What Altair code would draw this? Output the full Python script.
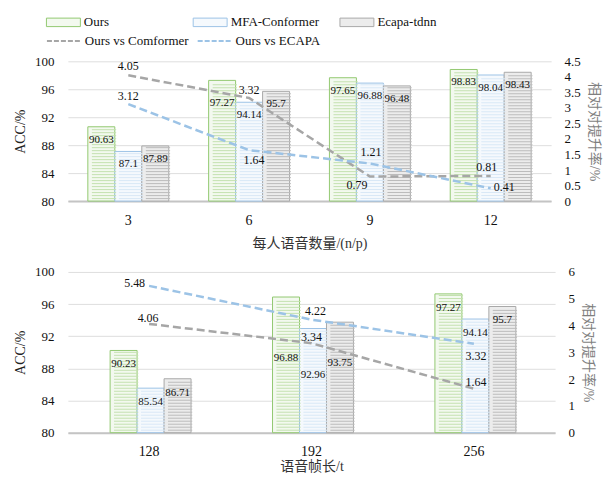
import altair as alt
import pandas as pd

# ---------------- data ----------------
models = ["Ours", "MFA-Conformer", "Ecapa-tdnn"]
comparisons = ["Ours vs Comformer", "Ours vs ECAPA"]

top_cats = ["3", "6", "9", "12"]
top_ours = [90.63, 97.27, 97.65, 98.83]
top_mfa = [87.1, 94.14, 96.88, 98.04]
top_ecapa = [87.89, 95.7, 96.48, 98.43]
top_vs_conf = [4.05, 3.32, 0.79, 0.81]
top_vs_ecapa = [3.12, 1.64, 1.21, 0.41]

bot_cats = ["128", "192", "256"]
bot_ours = [90.23, 96.88, 97.27]
bot_mfa = [85.54, 92.96, 94.14]
bot_ecapa = [86.71, 93.75, 95.7]
bot_vs_conf = [4.06, 3.34, 1.64]
bot_vs_ecapa = [5.48, 4.22, 3.32]

top_x_title = "每人语音数量/(n/p)"
bot_x_title = "语音帧长/t"
y_title = "ACC/%"
y2_title = "相对对提升率/%"

# ---------------- styles ----------------
FONT = "Liberation Serif"
CJK = "Liberation Serif, Noto Sans CJK SC"
FILL = ["#f3f9ef", "#f5f9fd", "#ececec"]
OUTLINE = ["#93c971", "#9dc3e6", "#a9a9a9"]
STRIPE = {"Ours": "#c4e1b0", "MFA-Conformer": "#d9e8f6", "Ecapa-tdnn": "#bcbcbc"}
LINE = ["#a6a6a6", "#9cc3e6"]


def panel(cats, ours, mfa, ecapa, vs_conf, vs_ecapa, width, height, pad_inner,
          y2_max, y2_values, x_title, bar_dy_default, bar_dy_over, line_pos,
          title_pad_x, legend):
    vals = {"Ours": ours, "MFA-Conformer": mfa, "Ecapa-tdnn": ecapa}
    bars = pd.DataFrame([
        {"cat": c, "model": m, "acc": v, "label": f"{v:g}", "key": f"{c}|{m}"}
        for m in models for c, v in zip(cats, vals[m])
    ])
    rates = {"Ours vs Comformer": vs_conf, "Ours vs ECAPA": vs_ecapa}
    lines = pd.DataFrame([
        {"cat": c, "comparison": s, "rate": v, "label": f"{v:g}", "key": f"{s}|{c}"}
        for s in comparisons for c, v in zip(cats, rates[s])
    ])

    # hatch stripes (decoration derived from the bar values)
    u = 20.0 / height
    srows = []
    for m in models:
        for c, v in zip(cats, vals[m]):
            k = 0
            while True:
                y0 = 80 + (3 * k + 2) * u
                y1 = y0 + 1.0 * u
                if y1 > v - 1.0 * u:
                    break
                srows.append({"cat": c, "model": m, "y0": y0, "y1": y1})
                k += 1
    stripes = pd.DataFrame(srows)

    xscale = alt.Scale(domain=cats, paddingInner=pad_inner, paddingOuter=pad_inner / 2)
    xaxis = alt.Axis(title=x_title, labelAngle=0, ticks=False, labelFontSize=14,
                     labelPadding=12, titleFont=CJK, titleFontSize=14,
                     titleFontWeight="normal", titlePadding=title_pad_x,
                     domainColor="#c4c4c4", domainWidth=2, labelColor="#111",
                     titleColor="#333")
    X = alt.X("cat:N", scale=xscale, axis=xaxis)
    XO = alt.XOffset("model:N", scale=alt.Scale(domain=models))
    yscale = alt.Scale(domain=[80, 100], nice=False, zero=False)
    yaxis = alt.Axis(title=y_title, values=[80, 84, 88, 92, 96, 100], ticks=False,
                     domain=False, gridColor="#dedede", labelFontSize=13,
                     labelPadding=14, titleFontSize=14, titleFontWeight="normal",
                     titlePadding=7, labelColor="#111", titleColor="#222")

    if legend:
        leg = alt.Legend(orient="none", legendX=-22, legendY=-48, direction="horizontal",
                         columns=3, title=None, symbolType="M-1,-0.5H3V0.5H-1Z",
                         symbolSize=289, symbolStrokeWidth=1, labelFont=FONT,
                         labelFontSize=13, labelOffset=20, columnPadding=18,
                         gridAlign="all", labelColor="#111")
        leg2 = alt.Legend(orient="none", legendX=-22, legendY=-30, direction="horizontal",
                          columns=2, title=None, symbolType="M-1,0H3", symbolSize=289,
                          symbolStrokeWidth=2, symbolDash=[5, 2], labelFont=FONT,
                          labelFontSize=13, labelOffset=20, columnPadding=5,
                          gridAlign="all", labelColor="#111")
    else:
        leg = None
        leg2 = None

    base_bar = alt.Chart(bars).mark_bar(strokeWidth=1).encode(
        x=X, xOffset=XO,
        y=alt.Y("acc:Q", scale=yscale, axis=yaxis),
        y2=alt.datum(80),
        fill=alt.Fill("model:N", scale=alt.Scale(domain=models, range=FILL), legend=leg),
        stroke=alt.Stroke("model:N", scale=alt.Scale(domain=models, range=OUTLINE), legend=leg),
    )
    left_layers = [base_bar]
    for m in models:
        sdf = stripes[stripes["model"] == m]
        left_layers.append(
            alt.Chart(sdf).mark_bar(fill=STRIPE[m], strokeWidth=0,
                                    width=alt.RelativeBandSize(0.9)).encode(
                x=X, xOffset=XO, y=alt.Y("y0:Q", scale=yscale, axis=yaxis), y2="y1:Q")
        )
    # bar value labels
    groups = {}
    for c in cats:
        for m in models:
            d = bar_dy_over.get((c, m), bar_dy_default)
            groups.setdefault(d, []).append(f"{c}|{m}")
    for d, keys in groups.items():
        left_layers.append(
            alt.Chart(bars).transform_filter(alt.FieldOneOfPredicate(field="key", oneOf=keys))
            .mark_text(font=FONT, fontSize=11, dy=d, baseline="middle", color="#111")
            .encode(x=X, xOffset=XO, y=alt.Y("acc:Q", scale=yscale, axis=yaxis), text="label:N")
        )
    left = alt.layer(*left_layers)

    y2scale = alt.Scale(domain=[0, y2_max], nice=False, zero=True)
    y2axis = alt.Axis(title=y2_title, orient="right", values=y2_values, format="~g",
                      ticks=False, domain=False, grid=False, labelFontSize=13,
                      labelPadding=13, titleFont=CJK, titleFontSize=14,
                      titleFontWeight="normal", titleColor="#7f7f7f", titlePadding=6,
                      titleAngle=90, labelColor="#111")
    right_layers = [
        alt.Chart(lines).mark_line(strokeDash=[8, 4], strokeWidth=2.5).encode(
            x=X,
            y=alt.Y("rate:Q", scale=y2scale, axis=y2axis),
            color=alt.Color("comparison:N", scale=alt.Scale(domain=comparisons, range=LINE),
                            legend=leg2),
        )
    ]
    for key, (dx, dy, align) in line_pos.items():
        right_layers.append(
            alt.Chart(lines).transform_filter(alt.datum.key == key)
            .mark_text(font=FONT, fontSize=12, dx=dx, dy=dy, align=align,
                       baseline="middle", color="#111")
            .encode(x=X, y=alt.Y("rate:Q", scale=y2scale, axis=y2axis), text="label:N")
        )
    right = alt.layer(*right_layers)

    return alt.layer(left, right).resolve_scale(y="independent").properties(
        width=width, height=height)


top_line_pos = {
    "Ours vs Comformer|3": (0, -9, "center"),
    "Ours vs ECAPA|3": (0, -8, "center"),
    "Ours vs Comformer|6": (0, -8, "center"),
    "Ours vs ECAPA|6": (5, 10, "center"),
    "Ours vs ECAPA|9": (1, -11, "center"),
    "Ours vs Comformer|9": (-13, 8, "center"),
    "Ours vs Comformer|12": (-4, -9, "center"),
    "Ours vs ECAPA|12": (3, -1, "left"),
}
bot_line_pos = {
    "Ours vs ECAPA|128": (-4, -3, "right"),
    "Ours vs Comformer|128": (-1, -6, "center"),
    "Ours vs ECAPA|192": (4, -9, "center"),
    "Ours vs Comformer|192": (0, -6, "center"),
    "Ours vs ECAPA|256": (2, 12, "center"),
    "Ours vs Comformer|256": (2, -7, "center"),
}

top = panel(top_cats, top_ours, top_mfa, top_ecapa, top_vs_conf, top_vs_ecapa,
            484, 140, 0.33, 4.5, [0, 0.5, 1, 1.5, 2, 2.5, 3, 3.5, 4, 4.5], top_x_title,
            13, {("6", "Ours"): 23}, top_line_pos, 10, True)
bottom = panel(bot_cats, bot_ours, bot_mfa, bot_ecapa, bot_vs_conf, bot_vs_ecapa,
               488, 161, 0.52, 6, [0, 1, 2, 3, 4, 5, 6], bot_x_title,
               14, {("192", "Ours"): 61, ("192", "MFA-Conformer"): 47,
                    ("192", "Ecapa-tdnn"): 41}, bot_line_pos, 1, False)

chart = alt.vconcat(top, bottom, spacing=15).resolve_scale(
    fill="independent", stroke="independent", color="independent"
).configure(
    font=FONT, padding={"left": 5, "right": 5, "top": 5, "bottom": 0}
).configure_view(stroke=None).configure_axis(labelFont=FONT, titleFont=FONT)

chart.save("out.html", embed_options={"renderer": "svg", "actions": False})
